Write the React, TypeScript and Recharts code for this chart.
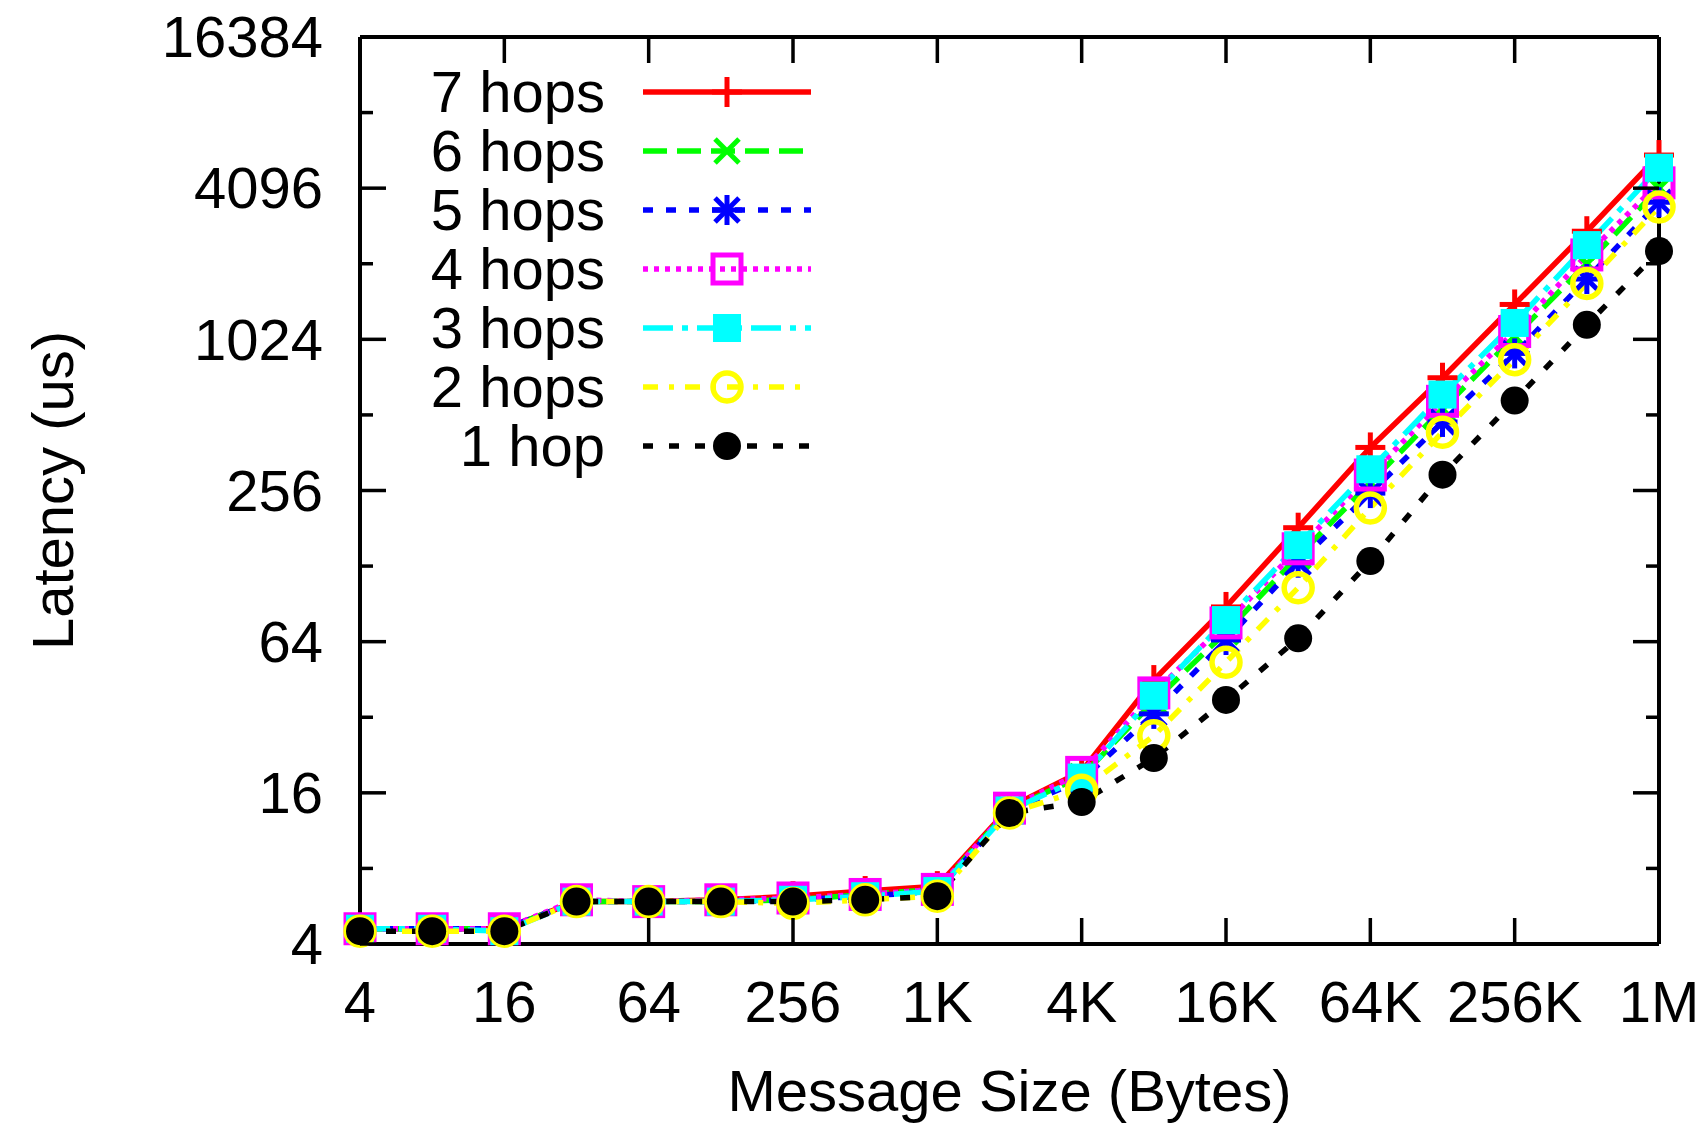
import { LineChart, Line, XAxis, YAxis, Legend } from 'recharts';

const sizes = [
  4, 8, 16, 32, 64, 128, 256, 512, 1024, 2048, 4096, 8192, 16384, 32768, 65536, 131072, 262144, 524288,
  1048576,
];

const hops7 = [4.6, 4.6, 4.6, 5.9, 5.9, 6.0, 6.2, 6.5, 6.8, 14.0, 19.5, 45, 88, 182, 380, 720, 1410, 2760, 5550];
const hops6 = [4.6, 4.6, 4.6, 5.9, 5.9, 5.9, 6.0, 6.3, 6.6, 13.8, 18.6, 37, 70, 140, 275, 540, 1050, 2050, 4100];
const hops5 = [4.6, 4.6, 4.6, 5.9, 5.9, 5.9, 6.0, 6.2, 6.5, 13.6, 18.0, 33, 65, 132, 250, 480, 900, 1780, 3600];
const hops4 = [4.6, 4.6, 4.6, 6.0, 5.9, 6.0, 6.1, 6.3, 6.6, 13.9, 19.3, 40, 76, 150, 295, 580, 1100, 2220, 4300];
const hops3 = [4.6, 4.6, 4.5, 5.9, 5.9, 5.9, 6.0, 6.2, 6.5, 13.6, 18.4, 39, 78, 155, 311, 617, 1190, 2430, 4940];
const hops2 = [4.5, 4.5, 4.5, 5.9, 5.9, 5.9, 5.8, 6.0, 6.2, 13.3, 16.4, 27, 53, 105, 218, 437, 850, 1710, 3450];
const hops1 = [4.5, 4.5, 4.5, 5.9, 5.9, 5.9, 5.9, 6.0, 6.2, 13.3, 14.7, 22, 37.5, 66, 134, 296, 584, 1170, 2300];

const xTicks = [4, 16, 64, 256, 1024, 4096, 16384, 65536, 262144, 1048576];
const xTickLabels = ['4', '16', '64', '256', '1K', '4K', '16K', '64K', '256K', '1M'];
const yTicks = [4, 8, 16, 32, 64, 128, 256, 512, 1024, 2048, 4096, 8192, 16384];
const yTickLabels = ['4', '16', '64', '256', '1024', '4096', '16384'];

const series = [
  { key: 'h7', name: '7 hops', values: hops7, color: '#ff0000', dash: undefined, marker: 'plus' },
  { key: 'h6', name: '6 hops', values: hops6, color: '#00ff00', dash: '24 10', marker: 'cross' },
  { key: 'h5', name: '5 hops', values: hops5, color: '#0000ff', dash: '10 13', marker: 'star' },
  { key: 'h4', name: '4 hops', values: hops4, color: '#ff00ff', dash: '5 6', marker: 'openSquare' },
  { key: 'h3', name: '3 hops', values: hops3, color: '#00ffff', dash: '30 9 6 9', marker: 'square' },
  { key: 'h2', name: '2 hops', values: hops2, color: '#ffff00', dash: '15 11 5 11', marker: 'openCircle' },
  { key: 'h1', name: '1 hop', values: hops1, color: '#000000', dash: '10 16', marker: 'circle' },
];

const data = sizes.map((size, i) => {
  const row: Record<string, number> = { size };
  series.forEach((s) => {
    row[s.key] = s.values[i];
  });
  return row;
});

const FONT = '"Liberation Sans", Arial, sans-serif';

const Marker = ({ kind, cx, cy, color }: { kind: string; cx: number; cy: number; color: string }) => {
  const r = 15;
  const d = 12;
  if (kind === 'plus') {
    return (
      <g stroke={color} strokeWidth={5}>
        <line x1={cx - r} x2={cx + r} y1={cy} y2={cy} />
        <line x1={cx} x2={cx} y1={cy - r} y2={cy + r} />
      </g>
    );
  }
  if (kind === 'cross') {
    return (
      <g stroke={color} strokeWidth={5}>
        <line x1={cx - d} x2={cx + d} y1={cy - d} y2={cy + d} />
        <line x1={cx - d} x2={cx + d} y1={cy + d} y2={cy - d} />
      </g>
    );
  }
  if (kind === 'star') {
    return (
      <g stroke={color} strokeWidth={5}>
        <line x1={cx - r} x2={cx + r} y1={cy} y2={cy} />
        <line x1={cx} x2={cx} y1={cy - r} y2={cy + r} />
        <line x1={cx - d} x2={cx + d} y1={cy - d} y2={cy + d} />
        <line x1={cx - d} x2={cx + d} y1={cy + d} y2={cy - d} />
      </g>
    );
  }
  if (kind === 'openSquare') {
    return <rect x={cx - 14} y={cy - 14} width={28} height={28} fill="none" stroke={color} strokeWidth={5} />;
  }
  if (kind === 'square') {
    return <rect x={cx - 14} y={cy - 14} width={28} height={28} fill={color} />;
  }
  if (kind === 'openCircle') {
    return <circle cx={cx} cy={cy} r={14} fill="none" stroke={color} strokeWidth={5.5} />;
  }
  return <circle cx={cx} cy={cy} r={14} fill={color} />;
};

const BottomTick = (props: any) => {
  const { x, y, index } = props;
  return (
    <g>
      <line x1={x} x2={x} y1={y} y2={y - 26} stroke="#000" strokeWidth={3.5} />
      <text x={x} y={y + 78} textAnchor="middle" fontSize={58} fontFamily={FONT} fill="#000">
        {xTickLabels[index]}
      </text>
    </g>
  );
};

const TopTick = (props: any) => {
  const { x, y } = props;
  return <line x1={x} x2={x} y1={y} y2={y + 26} stroke="#000" strokeWidth={3.5} />;
};

const LeftTick = (props: any) => {
  const { x, y, index } = props;
  const major = index % 2 === 0;
  return (
    <g>
      <line x1={x} x2={x + (major ? 26 : 13)} y1={y} y2={y} stroke="#000" strokeWidth={3.5} />
      {major && (
        <text x={x - 37} y={y} dy="0.35em" textAnchor="end" fontSize={58} fontFamily={FONT} fill="#000">
          {yTickLabels[index / 2]}
        </text>
      )}
    </g>
  );
};

const RightTick = (props: any) => {
  const { x, y, index } = props;
  const major = index % 2 === 0;
  return <line x1={x} x2={x - (major ? 26 : 13)} y1={y} y2={y} stroke="#000" strokeWidth={3.5} />;
};

const LegendBox = () => (
  <svg width={900} height={480} style={{ display: 'block' }}>
    {series.map((s, i) => {
      const y = 92 + i * 59;
      return (
        <g key={s.key}>
          <text x={605} y={y} dy="0.35em" textAnchor="end" fontSize={58} fontFamily={FONT} fill="#000">
            {s.name}
          </text>
          <line x1={643} x2={811} y1={y} y2={y} stroke={s.color} strokeWidth={5.5} strokeDasharray={s.dash} />
          <Marker kind={s.marker} cx={727} cy={y} color={s.color} />
        </g>
      );
    })}
  </svg>
);

const axisLine = { stroke: '#000', strokeWidth: 4 };

export default function App() {
  return (
    <div style={{ position: 'absolute', left: 0, top: 0, width: 1704, height: 1123, background: '#fff' }}>
      <LineChart
        width={1704}
        height={1123}
        data={data}
        margin={{ top: 36, right: 44, bottom: 0, left: 0 }}
        style={{ fontFamily: FONT }}
      >
        <XAxis
          xAxisId="bottom"
          dataKey="size"
          type="number"
          scale="log"
          domain={[4, 1048576]}
          ticks={xTicks}
          interval={0}
          height={179}
          tickSize={0}
          tickMargin={0}
          tickLine={false}
          axisLine={axisLine}
          tick={<BottomTick />}
          label={{
            value: 'Message Size (Bytes)',
            position: 'insideBottom',
            offset: 12,
            fontSize: 58,
            fill: '#000',
            fontFamily: FONT,
          }}
        />
        <XAxis
          xAxisId="top"
          orientation="top"
          dataKey="size"
          type="number"
          scale="log"
          domain={[4, 1048576]}
          ticks={xTicks}
          interval={0}
          height={1}
          tickSize={0}
          tickMargin={0}
          tickLine={false}
          axisLine={axisLine}
          tick={<TopTick />}
        />
        <YAxis
          yAxisId="left"
          type="number"
          scale="log"
          domain={[4, 16384]}
          ticks={yTicks}
          interval={0}
          width={360}
          tickSize={0}
          tickMargin={0}
          tickLine={false}
          axisLine={axisLine}
          tick={<LeftTick />}
          label={{
            value: 'Latency (us)',
            angle: -90,
            position: 'insideLeft',
            offset: 52,
            fontSize: 58,
            fill: '#000',
            fontFamily: FONT,
            style: { textAnchor: 'middle' },
          }}
        />
        <YAxis
          yAxisId="right"
          orientation="right"
          type="number"
          scale="log"
          domain={[4, 16384]}
          ticks={yTicks}
          interval={0}
          width={1}
          tickSize={0}
          tickMargin={0}
          tickLine={false}
          axisLine={axisLine}
          tick={<RightTick />}
        />
        <Legend
          layout="horizontal"
          verticalAlign="middle"
          align="center"
          content={() => <LegendBox />}
          wrapperStyle={{ position: 'absolute', left: 0, top: 0, width: 900, height: 480, pointerEvents: 'none' }}
        />
        {/* invisible series so the mirrored top/right axes get drawn */}
        <Line
          xAxisId="top"
          yAxisId="right"
          dataKey="h1"
          stroke="none"
          dot={false}
          activeDot={false}
          legendType="none"
          isAnimationActive={false}
        />
        {series.map((s) => (
          <Line
            key={s.key}
            xAxisId="bottom"
            yAxisId="left"
            dataKey={s.key}
            name={s.name}
            stroke={s.color}
            strokeWidth={5.5}
            strokeDasharray={s.dash}
            isAnimationActive={false}
            activeDot={false}
            dot={(p: any) => <Marker key={`${s.key}-${p.index}`} kind={s.marker} cx={p.cx} cy={p.cy} color={s.color} />}
          />
        ))}
      </LineChart>
    </div>
  );
}
